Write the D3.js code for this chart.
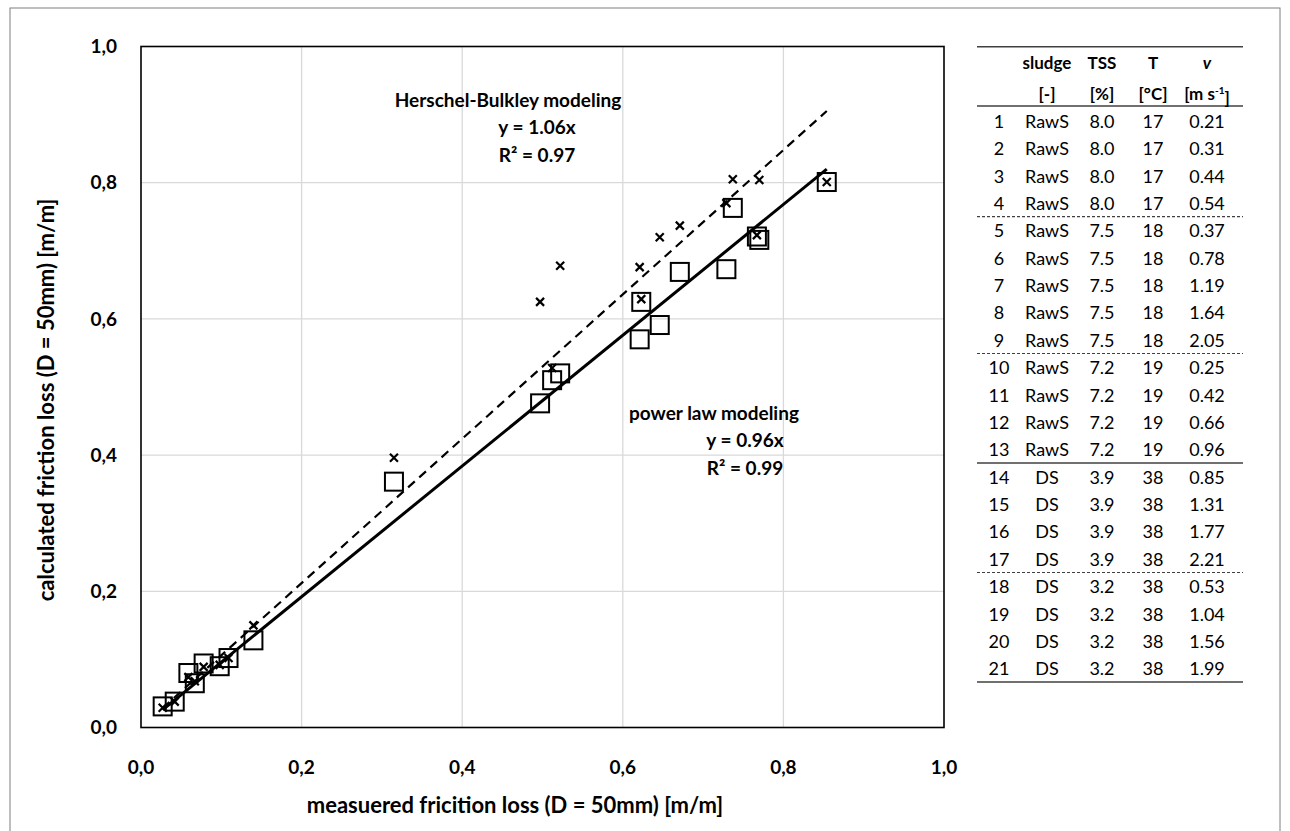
<!DOCTYPE html>
<html>
<head>
<meta charset="utf-8">
<script src="https://cdn.jsdelivr.net/npm/d3@7/dist/d3.min.js"></script>
<style>
  body { margin: 0; background: #fff; }
  text { font-family: Lato, "Liberation Sans", sans-serif; fill: #000; }
</style>
</head>
<body>
<div id="chart"></div>
<script>
// measured vs calculated friction loss, 21 runs
var measured = [0.854, 0.737, 0.767, 0.770, 0.729, 0.671, 0.646, 0.623, 0.621, 0.522, 0.512, 0.497, 0.315,
                0.027, 0.042, 0.059, 0.067, 0.078, 0.098, 0.109, 0.140]
var powerLaw = [0.801, 0.763, 0.721, 0.716, 0.673, 0.669, 0.591, 0.625, 0.570, 0.520, 0.510, 0.476, 0.361,
                0.031, 0.038, 0.080, 0.065, 0.094, 0.090, 0.102, 0.128]
var herschel = [0.801, 0.805, 0.723, 0.804, 0.770, 0.737, 0.720, 0.629, 0.676, 0.678, 0.528, 0.625, 0.396,
                0.029, 0.038, 0.074, 0.068, 0.089, 0.092, 0.102, 0.150]
var slopePL = 0.96
var slopeHB = 1.06
var ticks = [0, 0.2, 0.4, 0.6, 0.8, 1.0]

// table
var runNo = d3.range(1, 22)
var sludge = ["RawS","RawS","RawS","RawS","RawS","RawS","RawS","RawS","RawS","RawS","RawS","RawS","RawS",
              "DS","DS","DS","DS","DS","DS","DS","DS"]
var tss = ["8.0","8.0","8.0","8.0","7.5","7.5","7.5","7.5","7.5","7.2","7.2","7.2","7.2",
           "3.9","3.9","3.9","3.9","3.2","3.2","3.2","3.2"]
var temp = ["17","17","17","17","18","18","18","18","18","19","19","19","19",
            "38","38","38","38","38","38","38","38"]
var velo = ["0.21","0.31","0.44","0.54","0.37","0.78","1.19","1.64","2.05","0.25","0.42","0.66","0.96",
            "0.85","1.31","1.77","2.21","0.53","1.04","1.56","1.99"]
// separator after row: dashed or solid
var separators = [[4, "dash"], [9, "dash"], [13, "solid"], [17, "dash"], [21, "solid"]]

var W = 1290, H = 831
var svg = d3.select("#chart").append("svg").attr("width", W).attr("height", H)

svg.append("rect").attr("x", 10).attr("y", 8).attr("width", 1270).attr("height", 830)
    .attr("fill", "#fff").attr("stroke", "#7f7f7f").attr("stroke-width", 1)

var pLeft = 141, pRight = 944, pTop = 46.5, pBottom = 727.5

var x = d3.scaleLinear().domain([0, 1]).range([pLeft, pRight])
var y = d3.scaleLinear().domain([0, 1]).range([pBottom, pTop])

// grid
svg.selectAll(".gx").data(ticks.slice(1, -1)).enter().append("line")
    .attr("x1", d => x(d)).attr("x2", d => x(d)).attr("y1", pTop).attr("y2", pBottom)
    .attr("stroke", "#d9d9d9").attr("stroke-width", 1.3)
svg.selectAll(".gy").data(ticks.slice(1, -1)).enter().append("line")
    .attr("y1", d => y(d)).attr("y2", d => y(d)).attr("x1", pLeft).attr("x2", pRight)
    .attr("stroke", "#d9d9d9").attr("stroke-width", 1.3)

svg.append("rect").attr("x", pLeft).attr("y", pTop).attr("width", pRight - pLeft).attr("height", pBottom - pTop)
    .attr("fill", "none").attr("stroke", "#000").attr("stroke-width", 1.6)

// tick labels
svg.selectAll(".ty").data(ticks).enter().append("text")
    .attr("x", pLeft - 24).attr("y", d => y(d)).attr("dy", "0.35em")
    .attr("text-anchor", "end").attr("font-size", 19).attr("font-weight", "bold")
    .text(d => d3.format(".1f")(d).replace(".", ","))
svg.selectAll(".tx").data(ticks).enter().append("text")
    .attr("x", d => x(d)).attr("y", pBottom + 40).attr("dy", "0.35em")
    .attr("text-anchor", "middle").attr("font-size", 19).attr("font-weight", "bold")
    .text(d => d3.format(".1f")(d).replace(".", ","))

// axis titles
svg.append("text").attr("x", 515).attr("y", 805).attr("dy", "0.35em")
    .attr("text-anchor", "middle").attr("font-size", 22).attr("font-weight", "bold")
    .text("measuered fricition loss (D = 50mm) [m/m]")
svg.append("text").attr("transform", "translate(46,400) rotate(-90)").attr("dy", "0.35em")
    .attr("text-anchor", "middle").attr("font-size", 22).attr("font-weight", "bold")
    .text("calculated friction loss (D = 50mm) [m/m]")

// markers
var pts = measured.map(function(m, i){ return {m: m, pl: powerLaw[i], hb: herschel[i]} })

svg.selectAll(".sq").data(pts).enter().append("rect")
    .attr("x", d => x(d.m) - 9).attr("y", d => y(d.pl) - 9)
    .attr("width", 18).attr("height", 18)
    .attr("fill", "none").attr("stroke", "#000").attr("stroke-width", 2)

svg.selectAll(".cr").data(pts).enter().append("path")
    .attr("transform", d => "translate(" + x(d.m) + "," + y(d.hb) + ")")
    .attr("d", "M-4,-4L4,4M-4,4L4,-4")
    .attr("fill", "none").attr("stroke", "#000").attr("stroke-width", 2.2)

// trendlines through origin over measured range
var ext = d3.extent(measured)
var line = d3.line().x(d => x(d[0])).y(d => y(d[1]))
svg.append("path").attr("d", line(ext.map(v => [v, v * slopeHB])))
    .attr("fill", "none").attr("stroke", "#000").attr("stroke-width", 2.2).attr("stroke-dasharray", "9,6")
svg.append("path").attr("d", line(ext.map(v => [v, v * slopePL])))
    .attr("fill", "none").attr("stroke", "#000").attr("stroke-width", 3)

// annotations
function label(lines, cx, cy) {
    var t = svg.append("text").attr("font-size", 19).attr("font-weight", "bold").attr("text-anchor", "middle")
    lines.forEach(function(s, i){
        t.append("tspan").attr("x", cx[i]).attr("y", cy + i * 27.5).attr("dy", "0.35em").text(s)
    })
}
label(["Herschel-Bulkley modeling", "y = 1.06x", "R\u00b2 = 0.97"], [508, 537, 537], 100)
label(["power law modeling", "y = 0.96x", "R\u00b2 = 0.99"], [714, 745, 745], 413)

// table
var colX = [999, 1047, 1102, 1153, 1207]
var tLeft = 977, tRight = 1243
var rowY = d3.scaleLinear().domain([1, 21]).range([121.5, 669])
var tbl = svg.append("g").attr("font-size", 18)

tbl.append("line").attr("x1", tLeft).attr("x2", tRight).attr("y1", 46.7).attr("y2", 46.7)
    .attr("stroke", "#404040").attr("stroke-width", 1.6)
tbl.append("line").attr("x1", tLeft).attr("x2", tRight).attr("y1", 106).attr("y2", 106)
    .attr("stroke", "#404040").attr("stroke-width", 1.6)

var head1 = ["", "sludge", "TSS", "T", "v"]
var head2 = ["", "[-]", "[%]", "[\u00b0C]", ""]
head1.forEach(function(h, i){
    tbl.append("text").attr("x", colX[i]).attr("y", 63).attr("dy", "0.35em")
        .attr("text-anchor", "middle").attr("font-weight", "bold")
        .attr("font-style", i == 4 ? "italic" : "normal").attr("font-size", 17).text(h)
})
head2.forEach(function(h, i){
    tbl.append("text").attr("x", colX[i]).attr("y", 94).attr("dy", "0.35em")
        .attr("text-anchor", "middle").attr("font-weight", "bold").attr("font-size", 17).text(h)
})
var vu = tbl.append("text").attr("x", colX[4]).attr("y", 94).attr("dy", "0.35em")
    .attr("text-anchor", "middle").attr("font-weight", "bold").attr("font-size", 17)
vu.append("tspan").text("[m s")
vu.append("tspan").attr("font-size", 10).attr("dy", "-0.6em").text("-1")
vu.append("tspan").attr("dy", "0.6em").text("]")

var cols = [runNo, sludge, tss, temp, velo]
cols.forEach(function(col, c){
    tbl.selectAll(".c" + c).data(col).enter().append("text")
        .attr("x", colX[c]).attr("y", (d, i) => rowY(i + 1)).attr("dy", "0.35em")
        .attr("text-anchor", "middle").text(d => d)
})

separators.forEach(function(s){
    var yy = rowY(s[0]) + 13
    tbl.append("line").attr("x1", tLeft).attr("x2", tRight).attr("y1", yy).attr("y2", yy)
        .attr("stroke", "#404040").attr("stroke-width", s[1] == "dash" ? 1.2 : 1.6)
        .attr("stroke-dasharray", s[1] == "dash" ? "3,2" : null)
})
</script>
</body>
</html>
